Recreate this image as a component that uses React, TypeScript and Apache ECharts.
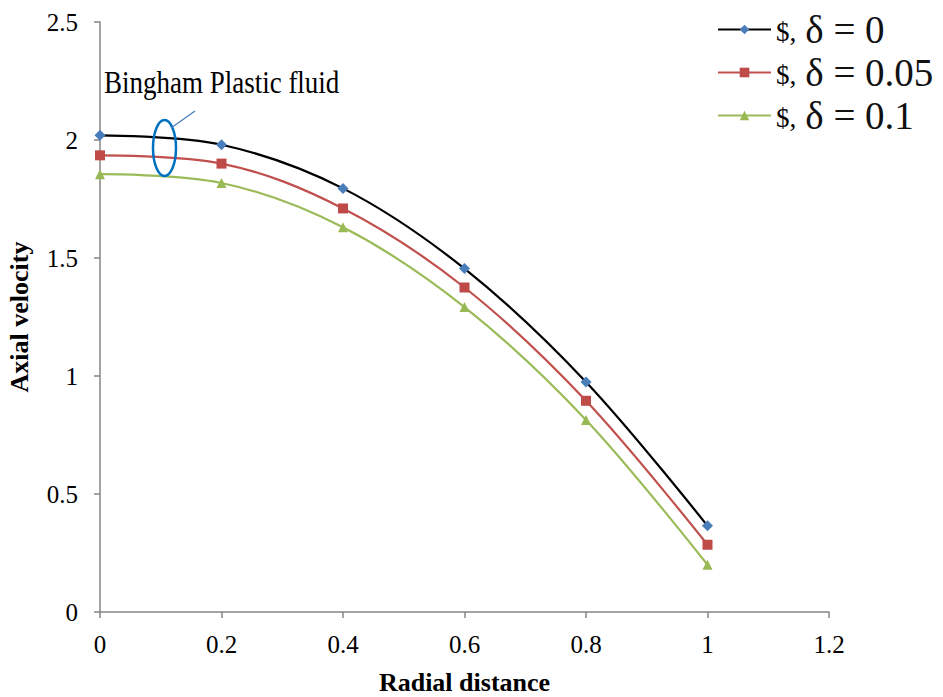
import React, { useEffect, useRef } from "react";
import * as echarts from "echarts";

// Radial positions and axial velocity profiles for three slip values
const radialDistance = [0, 0.2, 0.4, 0.6, 0.8, 1.0];
const velocityDelta0 = [2.02, 1.98, 1.795, 1.455, 0.975, 0.365];
const velocityDelta005 = [1.935, 1.9, 1.71, 1.375, 0.895, 0.285];
const velocityDelta01 = [1.855, 1.818, 1.63, 1.292, 0.814, 0.2];
const seriesNames = ["$, δ = 0", "$, δ = 0.05", "$, δ = 0.1"];
const annotationText = "Bingham Plastic fluid";

const SERIF = "Liberation Serif";

function pairs(ys: number[]) {
  return radialDistance.map((x, i) => [x, ys[i]]);
}

export default function App() {
  const ref = useRef<HTMLDivElement>(null);

  useEffect(() => {
    if (!ref.current) return;
    const chart = echarts.init(ref.current, null, { renderer: "svg" });

    const styles = [
      { line: "#000000", marker: "#4a7ebb", symbol: "diamond", size: 11, data: velocityDelta0 },
      { line: "#c0504d", marker: "#be4b48", symbol: "rect", size: 10, data: velocityDelta005 },
      { line: "#9bbb59", marker: "#98b954", symbol: "triangle", size: 10, data: velocityDelta01 },
    ];

    const axisCommon = {
      type: "value",
      nameLocation: "middle",
      nameTextStyle: { fontFamily: SERIF, fontSize: 26, fontWeight: "bold", color: "#000" },
      axisLine: { show: true, lineStyle: { color: "#868686", width: 1.5 } },
      axisTick: { show: true, length: 6, lineStyle: { color: "#868686", width: 1.5 } },
      splitLine: { show: false },
    };

    chart.setOption({
      animation: false,
      backgroundColor: "#ffffff",
      grid: {
        left: 100,
        right: 114,
        top: 22,
        bottom: 85,
        containLabel: false,
        outerBoundsMode: "none",
      },
      xAxis: {
        ...axisCommon,
        min: 0,
        max: 1.2,
        interval: 0.2,
        name: "Radial distance",
        nameGap: 57,
        axisLabel: { fontFamily: SERIF, fontSize: 25, color: "#000", margin: 20 },
      },
      yAxis: {
        ...axisCommon,
        min: 0,
        max: 2.5,
        interval: 0.5,
        name: "Axial velocity",
        nameGap: 68,
        axisLabel: { fontFamily: SERIF, fontSize: 25, color: "#000", margin: 22 },
      },
      legend: {
        orient: "vertical",
        left: 712,
        top: 5,
        itemWidth: 53,
        itemHeight: 12,
        itemGap: 4,
        data: seriesNames,
        formatter: (name: string) => {
          const idx = name.indexOf(",");
          return `{a|${name.slice(0, idx + 1)}}{b|${name.slice(idx + 2)}}`;
        },
        textStyle: {
          fontFamily: SERIF,
          color: "#000",
          rich: {
            a: { fontFamily: SERIF, fontSize: 27, color: "#000", padding: [5, 0, 0, 0] },
            b: { fontFamily: SERIF, fontSize: 39, color: "#111", lineHeight: 39, padding: [0, 0, 0, 9] },
          },
        },
      },
      series: styles.map((s, i) => ({
        type: "line",
        name: seriesNames[i],
        data: pairs(s.data),
        smooth: 0.35,
        symbol: s.symbol,
        symbolSize: s.size,
        showSymbol: true,
        lineStyle: { color: s.line, width: 2.2 },
        itemStyle: { color: s.marker },
        z: 3 - i,
      })),
      graphic: [
        {
          type: "text",
          x: 104,
          y: 82,
          scaleY: 1.15,
          style: {
            text: annotationText,
            fontFamily: SERIF,
            fontSize: 27,
            fill: "#000",
            verticalAlign: "middle",
          },
        },
        {
          type: "ellipse",
          shape: { cx: 164.5, cy: 148, rx: 11.5, ry: 28 },
          style: { fill: "none", stroke: "#0070c0", lineWidth: 2.5 },
          z: 10,
        },
        {
          type: "line",
          shape: { x1: 171, y1: 128, x2: 195, y2: 111 },
          style: { stroke: "#4a7ebb", lineWidth: 1.3 },
          z: 10,
        },
      ],
    });

    return () => chart.dispose();
  }, []);

  return (
    <div
      ref={ref}
      style={{ position: "absolute", left: 0, top: 0, width: 943, height: 697, background: "#fff" }}
    />
  );
}
